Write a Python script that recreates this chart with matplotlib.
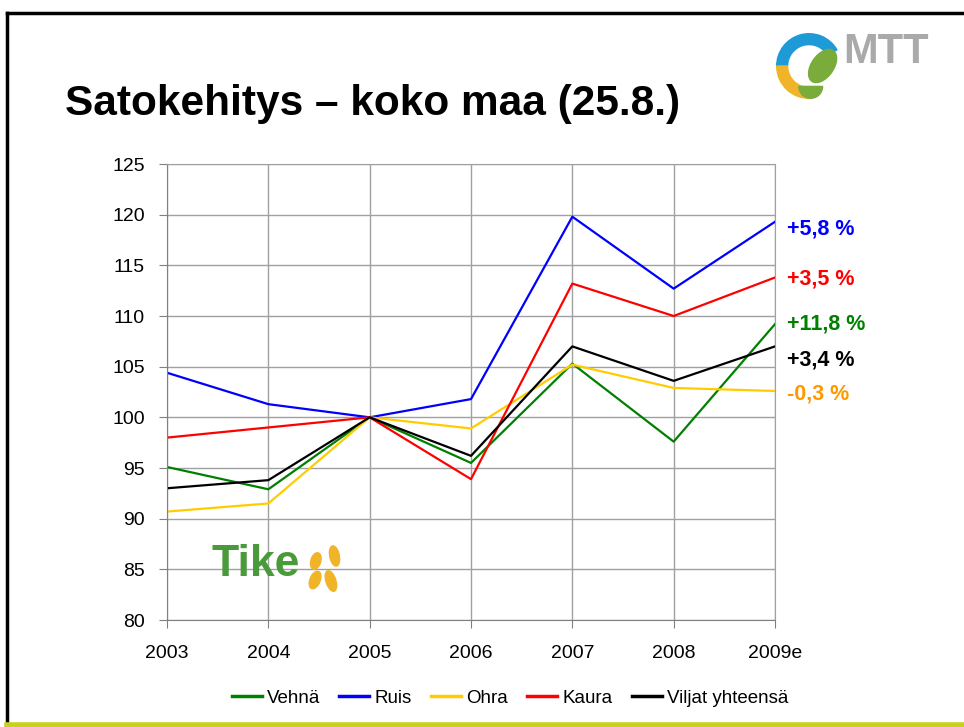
import numpy as np
import matplotlib.pyplot as plt
from matplotlib.patches import Wedge, Ellipse

plt.rcParams['font.family'] = ['Liberation Sans', 'DejaVu Sans']

years = ['2003', '2004', '2005', '2006', '2007', '2008', '2009e']
vehna = [95.1, 92.9, 100, 95.5, 105.3, 97.6, 109.2]
ruis = [104.4, 101.3, 100, 101.8, 119.8, 112.7, 119.3]
ohra = [90.7, 91.5, 100, 98.9, 105.2, 102.9, 102.6]
kaura = [98.0, 99.0, 100, 93.9, 113.2, 110.0, 113.8]
viljat = [93.0, 93.8, 100, 96.2, 107.0, 103.6, 107.0]

names = ['Vehnä', 'Ruis', 'Ohra', 'Kaura', 'Viljat yhteensä']
colors = ['#008000', '#0000ff', '#ffcc00', '#ff0000', '#000000']

# change labels at right edge
changes = ['+5,8 %', '+3,5 %', '+11,8 %', '+3,4 %', '-0,3 %']
change_colors = ['#0000ff', '#ff0000', '#008000', '#000000', '#ff9900']
change_y = [118.6, 113.7, 109.2, 105.7, 102.3]

fig = plt.figure(figsize=(9.64, 7.27), dpi=100)

# slide frame
fig.add_artist(plt.Line2D([7/964, 1], [1-13/727, 1-13/727], color='k', lw=2.5))
fig.add_artist(plt.Line2D([7/964, 7/964], [1-13/727, 0], color='k', lw=2.5))
fig.add_artist(plt.Line2D([7/964, 1], [1-725/727, 1-725/727], color='#c8d21e', lw=4))

fig.text(65/964, 1-104/727, 'Satokehitys \u2013 koko maa (25.8.)', fontsize=30.5,
         fontweight='bold', va='center', ha='left')

ax = fig.add_axes([167/964, 1-620/727, (775-167)/964, (620-164)/727])
x = np.arange(len(years))
series = [vehna, ruis, ohra, kaura, viljat]
for vals, name, c in zip(series, names, colors):
    ax.plot(x, vals, color=c, lw=1.6, label=name)

ax.set_xlim(0, len(years) - 1)
ax.set_ylim(80, 125)
ax.set_yticks(np.arange(80, 126, 5))
ax.set_xticks(x)
ax.set_xticklabels(years)
ax.grid(True, color='#a0a0a0', lw=1)
ax.set_axisbelow(True)
for s in ax.spines.values():
    s.set_color('#a0a0a0')
ax.spines['left'].set_color('#808080')
ax.spines['bottom'].set_color('#808080')
ax.tick_params(axis='y', length=6, color='#808080', labelsize=14, pad=10)
ax.tick_params(axis='x', length=6, color='#808080', labelsize=14, pad=12)

for lab, c, yv in zip(changes, change_colors, change_y):
    ax.text(len(years) - 1 + 0.12, yv, lab, color=c, fontsize=15.5,
            fontweight='bold', va='center', ha='left', clip_on=False)

leg = fig.legend(loc='center', bbox_to_anchor=(510/964, 1-698/727), ncol=5,
                 frameon=False, fontsize=13.5, handlelength=1.6, handletextpad=0.3,
                 columnspacing=1.0)
for h in leg.get_lines():
    h.set_linewidth(2.5)

# Tike logo
ax.text(0.44, 85.5, 'Tike', color='#4a9a3c', fontsize=32, fontweight='bold',
        va='center', ha='left', zorder=5)
lax = fig.add_axes([305/964, 1-595/727, 36/964, 50/727])
lax.set_xlim(0, 1)
lax.set_ylim(0, 1)
lax.axis('off')
for cx, cy, ang, h in [(0.28, 0.3, -40, 0.4), (0.72, 0.28, 30, 0.45),
                       (0.82, 0.78, 20, 0.42), (0.3, 0.68, -35, 0.36)]:
    lax.add_patch(Ellipse((cx, cy), 0.26, h, angle=ang, color='#f0b428'))

# MTT logo
max_ = fig.add_axes([775/964, 1-100/727, 68/964, 68/727])
max_.set_xlim(-1, 1)
max_.set_ylim(-1, 1)
max_.set_aspect('equal')
max_.axis('off')
max_.add_patch(Wedge((0, 0), 0.95, 30, 180, width=0.32, color='#1e9ad6'))
max_.add_patch(Wedge((0, 0), 0.95, 180, 275, width=0.32, color='#f0b428'))
max_.add_patch(Ellipse((0.4, 0.0), 0.65, 1.1, angle=-35, color='#7aac3c'))
max_.add_patch(Wedge((0.05, -0.6), 0.35, 180, 360, color='#7aac3c'))
fig.text(843/964, 1-52/727, 'MTT', color='#aaaaaa', fontsize=30,
         fontweight='bold', va='center', ha='left')

fig.savefig('out.png', dpi=100)
